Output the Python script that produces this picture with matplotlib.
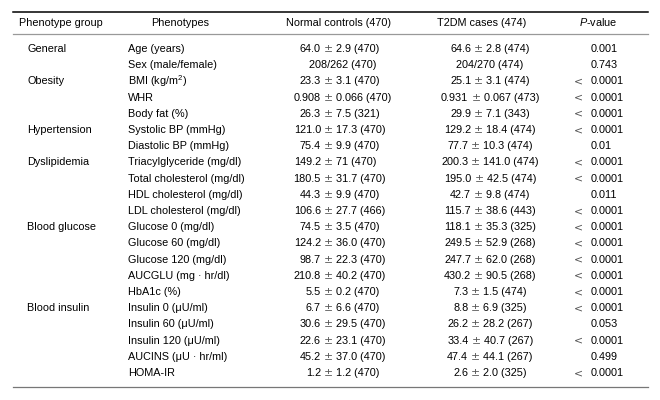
"""Baseline characteristics table for T2DM cases and normal controls."""

import matplotlib.pyplot as plt
from matplotlib.offsetbox import AnnotationBbox, HPacker, TextArea

plt.rcParams['font.family'] = ['Liberation Sans', 'DejaVu Sans']
plt.rcParams['mathtext.fontset'] = 'custom'
plt.rcParams['mathtext.rm'] = 'Liberation Sans'
plt.rcParams['mathtext.it'] = 'Liberation Sans:italic'

headers = ["Phenotype group", "Phenotypes", "Normal controls (470)",
           "T2DM cases (474)", "P-value"]

groups = ["General", "", "Obesity", "", "", "Hypertension", "",
          "Dyslipidemia", "", "", "", "Blood glucose", "", "", "", "",
          "Blood insulin", "", "", "", ""]

phenotypes = [
    "Age (years)", "Sex (male/female)", "BMI (kg/m$^2$)", "WHR",
    "Body fat (%)", "Systolic BP (mmHg)", "Diastolic BP (mmHg)",
    "Triacylglyceride (mg/dl)", "Total cholesterol (mg/dl)",
    "HDL cholesterol (mg/dl)", "LDL cholesterol (mg/dl)",
    "Glucose 0 (mg/dl)", "Glucose 60 (mg/dl)", "Glucose 120 (mg/dl)",
    "AUCGLU (mg \u00b7 hr/dl)", "HbA1c (%)", "Insulin 0 (\u03bcU/ml)",
    "Insulin 60 (\u03bcU/ml)", "Insulin 120 (\u03bcU/ml)",
    "AUCINS (\u03bcU \u00b7 hr/ml)", "HOMA-IR",
]

# mean, sd, n  (Sex row given as a ratio)
normal_mean = ["64.0", "208/262", "23.3", "0.908", "26.3", "121.0", "75.4",
               "149.2", "180.5", "44.3", "106.6", "74.5", "124.2", "98.7",
               "210.8", "5.5", "6.7", "30.6", "22.6", "45.2", "1.2"]
normal_sd = ["2.9", "", "3.1", "0.066", "7.5", "17.3", "9.9", "71", "31.7",
             "9.9", "27.7", "3.5", "36.0", "22.3", "40.2", "0.2", "6.6",
             "29.5", "23.1", "37.0", "1.2"]
normal_n = [470, 470, 470, 470, 321, 470, 470, 470, 470, 470, 466, 470, 470,
            470, 470, 470, 470, 470, 470, 470, 470]

t2dm_mean = ["64.6", "204/270", "25.1", "0.931", "29.9", "129.2", "77.7",
             "200.3", "195.0", "42.7", "115.7", "118.1", "249.5", "247.7",
             "430.2", "7.3", "8.8", "26.2", "33.4", "47.4", "2.6"]
t2dm_sd = ["2.8", "", "3.1", "0.067", "7.1", "18.4", "10.3", "141.0", "42.5",
           "9.8", "38.6", "35.3", "52.9", "62.0", "90.5", "1.5", "6.9",
           "28.2", "40.7", "44.1", "2.0"]
t2dm_n = [474, 474, 474, 473, 343, 474, 474, 474, 474, 474, 443, 325, 268,
          268, 268, 474, 325, 267, 267, 267, 325]

p_values = ["0.001", "0.743", "< 0.0001", "< 0.0001", "< 0.0001", "< 0.0001",
            "0.01", "< 0.0001", "< 0.0001", "0.011", "< 0.0001", "< 0.0001",
            "< 0.0001", "< 0.0001", "< 0.0001", "< 0.0001", "< 0.0001",
            "0.053", "< 0.0001", "0.499", "< 0.0001"]

fig = plt.figure(figsize=(6.6, 4.0), dpi=100)
ax = fig.add_axes([0, 0, 1, 1])
ax.set_xlim(0, 660)
ax.set_ylim(400, 0)
ax.axis("off")

fs = 7.8
pm = "\u00b1"
sym = ["DejaVu Sans"]
pm_color = "#555555"

# rules
ax.plot([13, 648], [11.5, 11.5], color="black", lw=1.1)
ax.plot([13, 648], [33.5, 33.5], color="#999999", lw=0.9)
ax.plot([13, 648], [387, 387], color="#777777", lw=0.9)

# header
header_y = 22.5
ax.text(19, header_y, headers[0], fontsize=fs, ha="left", va="center")
ax.text(180, header_y, headers[1], fontsize=fs, ha="center", va="center")
ax.text(338, header_y, headers[2], fontsize=fs, ha="center", va="center")
ax.text(482, header_y, headers[3], fontsize=fs, ha="center", va="center")
ax.text(598, header_y, "$\\it{P}$-value", fontsize=fs, ha="center",
        va="center")


def centered_value(x, y, mean, sd, n):
    """Mean, a plus-minus sign and 'sd (n)', centred at x."""
    parts = [
        TextArea(mean, textprops=dict(fontsize=fs)),
        TextArea(pm, textprops=dict(fontsize=fs, family=sym,
                                    color=pm_color)),
        TextArea(f"{sd} ({n})", textprops=dict(fontsize=fs)),
    ]
    box = HPacker(children=parts, align="baseline", pad=0, sep=2.2)
    ab = AnnotationBbox(box, (x, y), xycoords="data", frameon=False,
                        box_alignment=(0.5, 0.5), pad=0)
    ax.add_artist(ab)


row0 = 49
step = 16.2
for i, name in enumerate(phenotypes):
    y = row0 + i * step
    if groups[i]:
        ax.text(27, y, groups[i], fontsize=fs, ha="left", va="center")
    ax.text(128, y, name, fontsize=fs, ha="left", va="center")

    if normal_sd[i]:
        ax.text(321, y, normal_mean[i], fontsize=fs, ha="right", va="center")
        ax.text(328.5, y, pm, fontsize=fs, ha="center", va="center",
                family=sym, color=pm_color)
        ax.text(336, y, f"{normal_sd[i]} ({normal_n[i]})", fontsize=fs,
                ha="left", va="center")
        centered_value(490, y, t2dm_mean[i], t2dm_sd[i], t2dm_n[i])
    else:
        ax.text(343, y, f"{normal_mean[i]} ({normal_n[i]})", fontsize=fs,
                ha="center", va="center")
        ax.text(490, y, f"{t2dm_mean[i]} ({t2dm_n[i]})", fontsize=fs,
                ha="center", va="center")

    p = p_values[i]
    if p.startswith("<"):
        ax.text(578, y, "<", fontsize=fs, ha="center", va="center",
                family=sym, color=pm_color)
        ax.text(591, y, p[2:], fontsize=fs, ha="left", va="center")
    else:
        ax.text(591, y, p, fontsize=fs, ha="left", va="center")

fig.savefig("out.png", dpi=100)
